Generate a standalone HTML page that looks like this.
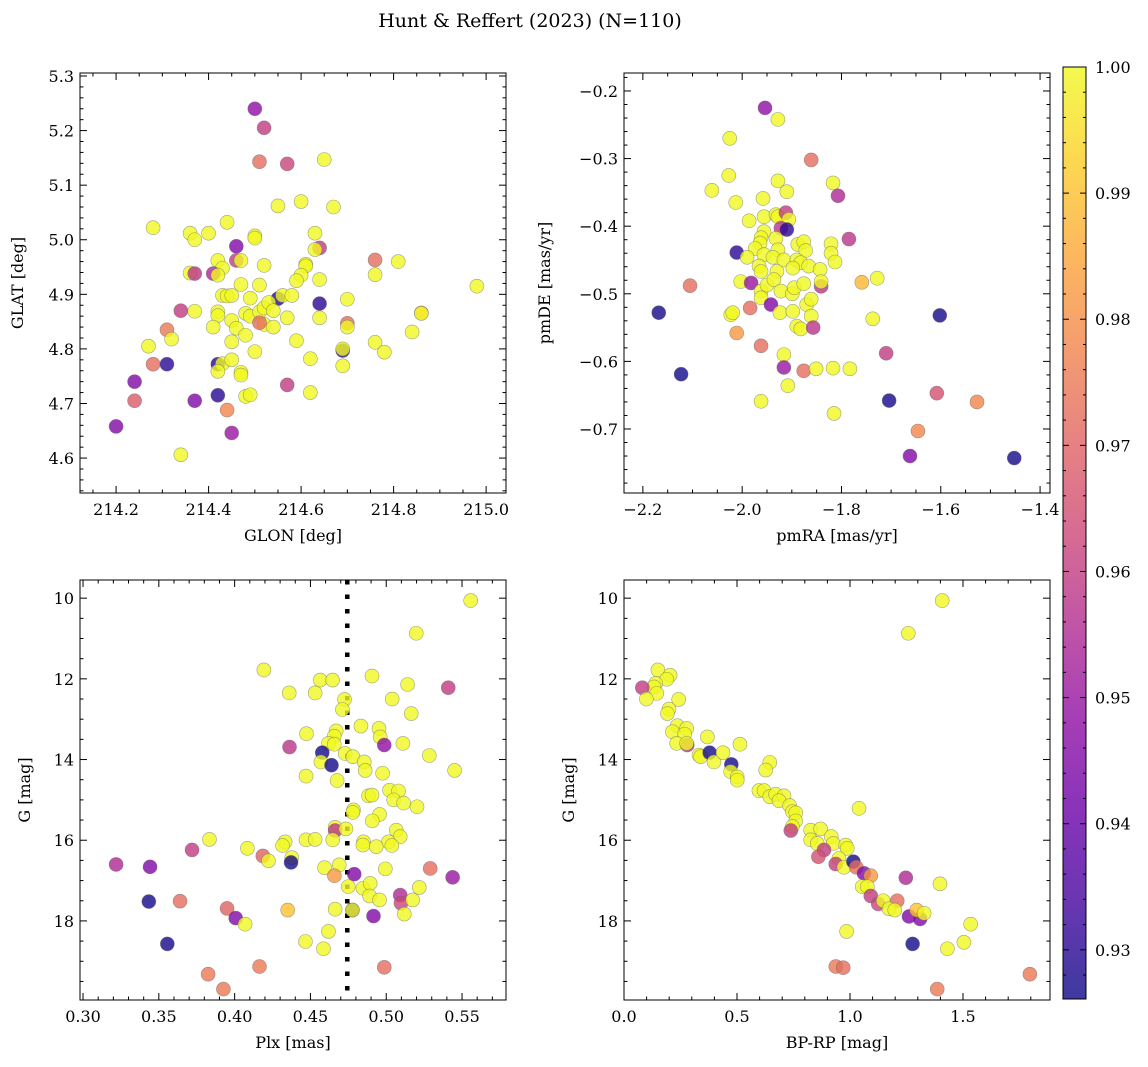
<!DOCTYPE html>
<html><head><meta charset="utf-8">
<style>
html,body{margin:0;padding:0;background:#fff;}
svg{display:block;font-family:"DejaVu Serif","Liberation Serif",serif;}
</style></head>
<body>
<svg id="fig" width="1148" height="1067" viewBox="0 0 1148 1067" xmlns="http://www.w3.org/2000/svg">
<text x="530" y="27" font-size="19" text-anchor="middle">Hunt &amp; Reffert (2023) (N=110)</text>
</svg>
<script>
// ---- Panel 1: GLON vs GLAT ----
const p1Glon=[214.50,214.52,214.51,214.57,214.65,214.55,214.60,214.67,214.28,214.36,214.37,214.40,214.44,214.50,214.50,214.63,214.64,214.63,214.46,214.46,214.47,214.42,214.52,214.61,214.61,214.76,214.81,214.43,214.36,214.37,214.41,214.42,214.60,214.59,214.64,214.76,214.98,214.51,214.47,214.43,214.44,214.45,214.49,214.55,214.56,214.58,214.64,214.70,214.37,214.34,214.42,214.42,214.45,214.48,214.49,214.51,214.52,214.53,214.54,214.57,214.52,214.51,214.54,214.41,214.46,214.48,214.64,214.70,214.70,214.86,214.86,214.84,214.45,214.50,214.59,214.76,214.78,214.69,214.69,214.27,214.31,214.32,214.28,214.31,214.42,214.43,214.45,214.42,214.47,214.47,214.62,214.69,214.24,214.48,214.49,214.42,214.37,214.24,214.44,214.57,214.62,214.20,214.45,214.34];
const p1Glat=[5.240,5.205,5.143,5.139,5.147,5.062,5.070,5.060,5.022,5.012,5.000,5.012,5.032,5.007,5.003,5.012,4.985,4.982,4.988,4.962,4.962,4.962,4.953,4.955,4.952,4.963,4.960,4.948,4.939,4.938,4.938,4.935,4.935,4.925,4.927,4.936,4.915,4.917,4.918,4.898,4.897,4.898,4.893,4.892,4.898,4.898,4.883,4.891,4.869,4.870,4.868,4.861,4.852,4.865,4.860,4.868,4.875,4.885,4.870,4.857,4.845,4.848,4.840,4.840,4.838,4.825,4.857,4.847,4.840,4.866,4.865,4.831,4.813,4.795,4.815,4.812,4.794,4.797,4.800,4.805,4.835,4.818,4.772,4.772,4.772,4.773,4.780,4.759,4.757,4.752,4.782,4.769,4.740,4.713,4.716,4.715,4.705,4.705,4.688,4.734,4.720,4.658,4.646,4.606];
const p1Prob=[0.948,0.96,0.972,0.962,1,1,1,1,1,1,1,1,1,1,1,1,0.96,1,0.945,0.96,1,1,1,1,1,0.972,1,1,1,0.958,0.955,1,1,1,1,1,1,1,1,1,1,1,1,0.93,1,1,0.93,1,1,0.96,1,1,1,1,1,1,1,1,1,1,1,0.972,1,1,1,1,1,0.972,1,0.985,1,1,1,1,1,1,1,0.93,1,1,0.975,1,0.972,0.93,0.93,1,1,1,1,1,1,1,0.945,1,1,0.93,0.945,0.968,0.978,0.96,1,0.945,0.95,1];

// ---- Panel 2: pmRA vs pmDE ----
const p2PmRA=[-1.954,-1.928,-2.025,-1.861,-2.027,-1.928,-1.817,-2.061,-1.910,-1.807,-2.013,-1.958,-1.986,-1.956,-1.932,-1.928,-1.912,-1.906,-1.922,-1.910,-1.785,-1.956,-1.962,-1.932,-1.964,-1.974,-1.928,-1.888,-1.876,-1.872,-1.821,-1.821,-1.813,-2.011,-1.990,-1.956,-1.938,-1.916,-1.890,-1.882,-1.866,-1.843,-1.966,-1.962,-1.930,-1.898,-2.003,-1.982,-1.962,-1.950,-1.936,-1.922,-1.899,-1.895,-1.876,-1.841,-1.841,-1.759,-1.728,-2.105,-2.168,-1.962,-1.942,-1.870,-1.861,-2.023,-2.019,-1.984,-1.924,-1.898,-1.861,-1.737,-1.602,-1.890,-1.882,-1.857,-2.011,-1.962,-1.916,-1.916,-1.876,-1.851,-1.817,-1.783,-1.710,-2.123,-1.908,-1.704,-1.608,-1.527,-1.962,-1.815,-1.646,-1.662,-1.452];
const p2PmDE=[-0.225,-0.242,-0.270,-0.302,-0.325,-0.333,-0.336,-0.347,-0.349,-0.355,-0.365,-0.359,-0.392,-0.386,-0.383,-0.386,-0.380,-0.390,-0.403,-0.405,-0.419,-0.408,-0.417,-0.418,-0.425,-0.433,-0.435,-0.427,-0.423,-0.436,-0.426,-0.440,-0.453,-0.439,-0.446,-0.442,-0.446,-0.450,-0.450,-0.454,-0.459,-0.464,-0.459,-0.467,-0.467,-0.462,-0.482,-0.484,-0.496,-0.487,-0.479,-0.496,-0.500,-0.491,-0.485,-0.489,-0.482,-0.483,-0.477,-0.488,-0.528,-0.506,-0.516,-0.516,-0.508,-0.531,-0.528,-0.521,-0.528,-0.526,-0.533,-0.537,-0.532,-0.548,-0.552,-0.550,-0.558,-0.577,-0.590,-0.609,-0.614,-0.611,-0.610,-0.611,-0.588,-0.619,-0.636,-0.658,-0.647,-0.660,-0.659,-0.677,-0.703,-0.740,-0.743];
const p2Prob=[0.948,1,1,0.972,1,1,1,1,1,0.955,1,1,1,1,1,1,0.96,1,0.958,0.93,0.958,1,1,1,1,1,1,1,1,1,1,1,1,0.93,1,1,1,1,1,1,1,1,1,1,1,1,1,0.95,1,1,1,1,1,1,1,0.958,1,0.988,1,0.972,0.927,1,0.945,1,1,1,1,0.972,1,1,1,1,0.927,1,1,0.958,0.982,0.972,1,0.95,0.972,1,1,1,0.96,0.927,1,0.927,0.965,0.978,1,1,0.978,0.945,0.927];

// ---- Panel 3: Plx vs G ----
const p3Plx=[0.5557,0.5198,0.4193,0.4565,0.4646,0.4906,0.5141,0.5409,0.4360,0.4531,0.4725,0.4711,0.5039,0.5165,0.4833,0.4952,0.4960,0.4987,0.5110,0.5284,0.5451,0.4474,0.4670,0.4657,0.4619,0.4657,0.4362,0.4578,0.4569,0.4639,0.4729,0.4780,0.4855,0.4861,0.4976,0.4676,0.4471,0.5022,0.5081,0.4883,0.4906,0.5049,0.5115,0.5203,0.4784,0.4780,0.4956,0.4908,0.4663,0.4663,0.4734,0.5066,0.5092,0.5015,0.5037,0.4850,0.4846,0.4934,0.4471,0.4531,0.4647,0.4333,0.4316,0.3834,0.4084,0.3719,0.4186,0.4223,0.4377,0.4372,0.3218,0.3442,0.4593,0.4690,0.4789,0.4658,0.4994,0.5290,0.5438,0.4749,0.4846,0.4894,0.4890,0.4956,0.5092,0.5097,0.5218,0.5174,0.5119,0.3434,0.3640,0.3950,0.4007,0.4069,0.4350,0.4663,0.4777,0.4777,0.4916,0.3556,0.4467,0.4619,0.4586,0.4164,0.4987,0.3825,0.3926];
const p3G=[10.06,10.87,11.78,12.03,12.03,11.93,12.14,12.22,12.35,12.35,12.51,12.76,12.50,12.86,13.17,13.23,13.44,13.64,13.60,13.90,14.27,13.36,13.29,13.42,13.60,13.62,13.69,13.83,14.06,14.14,13.85,13.93,14.06,14.27,14.34,14.52,14.41,14.76,14.78,14.90,14.88,15.00,15.08,15.17,15.25,15.31,15.36,15.52,15.68,15.76,15.72,15.75,15.91,16.04,16.13,16.04,16.12,16.16,15.99,15.98,15.99,16.04,16.13,15.98,16.20,16.24,16.39,16.51,16.43,16.55,16.60,16.66,16.68,16.61,16.84,16.88,16.71,16.70,16.92,17.15,17.19,17.07,17.38,17.48,17.36,17.56,17.17,17.48,17.83,17.52,17.51,17.69,17.93,18.08,17.73,17.71,17.73,17.73,17.88,18.57,18.51,18.26,18.69,19.13,19.15,19.32,19.69];
const p3Prob=[1,1,1,1,1,1,1,0.96,1,1,1,1,1,1,1,1,1,0.948,1,1,1,1,1,1,1,1,0.958,0.927,1,0.927,1,1,1,1,1,1,1,1,1,1,1,1,1,1,1,1,1,1,1,0.958,1,1,1,1,1,1,1,1,1,1,1,1,1,1,1,0.96,0.97,1,1,0.927,0.955,0.945,1,1,0.945,0.982,1,0.972,0.95,1,1,1,1,1,0.955,0.962,1,1,1,0.927,0.972,0.97,0.945,1,0.99,1,0.927,1,0.945,0.927,1,1,1,0.975,0.972,0.975,0.975];
const plxRef=0.4743;

// ---- Panel 4: BP-RP vs G ----
const p4Color=[1.408,1.258,0.150,0.204,0.189,0.140,0.133,0.145,0.081,0.099,0.242,0.199,0.192,0.236,0.277,0.214,0.268,0.233,0.280,0.277,0.369,0.332,0.339,0.379,0.398,0.438,0.513,0.475,0.472,0.501,0.501,0.645,0.627,0.597,0.620,0.645,0.671,0.708,0.686,0.733,0.745,0.760,0.760,0.745,0.738,1.040,0.826,0.870,0.917,0.826,0.855,0.926,0.981,0.988,0.885,0.860,0.951,0.937,0.973,1.015,1.028,1.062,1.092,1.054,1.077,1.092,1.125,1.147,1.209,1.173,1.198,1.261,1.310,1.295,1.328,1.247,1.398,1.534,1.504,1.431,0.985,1.277,0.937,0.970,1.386,1.796];
const p4G=[10.06,10.87,11.78,11.91,12.01,12.11,12.20,12.36,12.22,12.50,12.51,12.75,12.86,13.16,13.23,13.31,13.37,13.60,13.64,13.60,13.44,13.89,13.93,13.83,14.06,13.83,13.62,14.12,14.30,14.43,14.51,14.07,14.26,14.77,14.77,14.92,14.86,14.90,15.02,15.14,15.29,15.32,15.52,15.66,15.76,15.21,15.75,15.72,15.91,15.99,16.08,16.08,16.12,16.20,16.24,16.41,16.45,16.59,16.67,16.53,16.67,16.82,16.88,17.15,17.15,17.38,17.58,17.50,17.50,17.70,17.73,17.89,17.95,17.73,17.81,16.93,17.08,18.08,18.53,18.69,18.26,18.57,19.13,19.16,19.69,19.32];
const p4Prob=[1,1,1,1,1,1,1,1,0.96,1,1,1,1,1,1,1,1,1,0.958,1,1,1,1,0.927,1,1,1,0.927,1,1,1,1,1,1,1,1,1,1,1,1,1,1,1,1,0.96,1,1,1,1,1,1,1,1,1,0.96,0.965,1,0.96,1,0.927,0.972,0.945,0.982,1,1,0.96,0.962,1,0.972,1,1,0.945,0.945,0.99,1,0.955,1,1,1,1,1,0.927,0.975,0.972,0.975,0.975];

// colorbar ticks
const cbTicks=[0.93,0.94,0.95,0.96,0.97,0.98,0.99,1.00];
const cbMin=0.9261, cbMax=1.0;

const NS='http://www.w3.org/2000/svg';
const svg=document.getElementById('fig');
function mk(tag,attrs,parent){const e=document.createElementNS(NS,tag);for(const k in attrs)e.setAttribute(k,attrs[k]);(parent||svg).appendChild(e);return e;}

const plasma=[[13,8,135],[65,4,157],[106,0,168],[143,13,164],[177,42,144],[204,71,120],[225,100,98],[242,132,75],[252,166,54],[252,206,37],[240,249,33]];
function cmap(v){let t=(v-cbMin)/(cbMax-cbMin);t=Math.max(0,Math.min(1,t));const s=t*10;const i=Math.min(9,Math.floor(s));const f=s-i;const a=plasma[i],b=plasma[i+1];return 'rgb('+a.map((c,k)=>Math.round(c+(b[k]-c)*f)).join(',')+')';}
function fmt(v,d){const s=Math.abs(v).toFixed(d);return (v<-1e-9?'\u2212':'')+s;}

function panel(cfg){
  const g=mk('g',{});
  
  
  const {x0,y0,x1,y1}=cfg;
  const sx=v=>x0+(v-cfg.xd[0])/(cfg.xd[1]-cfg.xd[0])*(x1-x0);
  const sy=cfg.yinv?(v=>y0+(v-cfg.yd[0])/(cfg.yd[1]-cfg.yd[0])*(y1-y0)):(v=>y1-(v-cfg.yd[0])/(cfg.yd[1]-cfg.yd[0])*(y1-y0));
  const clip='clip-'+cfg.name;
  const cp=mk('clipPath',{id:clip},g);mk('rect',{x:x0,y:y0,width:x1-x0,height:y1-y0},cp);
  const pts=mk('g',{'clip-path':'url(#'+clip+')'},g);
  
  
  if(cfg.vline!==undefined){
    const l=mk('line',{x1:sx(cfg.vline),x2:sx(cfg.vline),y1:y0,y2:y1,stroke:'#000','stroke-width':4.5,'stroke-dasharray':'4.5 10'},pts);
    
    
  }
  for(let i=0;i<cfg.xs.length;i++){
    const c=mk('circle',{cx:sx(cfg.xs[i]),cy:sy(cfg.ys[i]),r:7,fill:cmap(cfg.ps[i]),'fill-opacity':0.8,stroke:'#666','stroke-opacity':0.6,'stroke-width':0.6},pts);
    
    
  }
  mk('rect',{x:x0,y:y0,width:x1-x0,height:y1-y0,fill:'none',stroke:'#000','stroke-width':1},g);
  // x ticks
  const eps=1e-9;
  for(let v=Math.ceil(cfg.xd[0]/cfg.xmin-eps)*cfg.xmin;v<=cfg.xd[1]+eps;v+=cfg.xmin){
    const X=sx(v);const major=Math.abs(v/cfg.xmaj-Math.round(v/cfg.xmaj))<1e-6;const L=major?7:3.5;
    mk('line',{x1:X,x2:X,y1:y1,y2:y1-L,stroke:'#000','stroke-width':1},g);
    mk('line',{x1:X,x2:X,y1:y0,y2:y0+L,stroke:'#000','stroke-width':1},g);
    if(major){const t=mk('text',{x:X,y:y1+22,'font-size':16,'text-anchor':'middle'},g);t.textContent=fmt(v,cfg.xdec);
      }
  }
  for(let v=Math.ceil(cfg.yd[0]/cfg.ymin-eps)*cfg.ymin;v<=cfg.yd[1]+eps;v+=cfg.ymin){
    const Y=sy(v);const major=Math.abs(v/cfg.ymaj-Math.round(v/cfg.ymaj))<1e-6;const L=major?7:3.5;
    mk('line',{x1:x0,x2:x0+L,y1:Y,y2:Y,stroke:'#000','stroke-width':1},g);
    mk('line',{x1:x1,x2:x1-L,y1:Y,y2:Y,stroke:'#000','stroke-width':1},g);
    if(major){const t=mk('text',{x:x0-6,y:Y+6,'font-size':16,'text-anchor':'end'},g);t.textContent=fmt(v,cfg.ydec);
      }
  }
  const xl=mk('text',{x:(x0+x1)/2,y:y1+48,'font-size':16,'text-anchor':'middle'},g);xl.textContent=cfg.xlabel;
  
  const yl=mk('text',{x:0,y:0,'font-size':16,'text-anchor':'middle',transform:'translate('+cfg.ylx+','+((y0+y1)/2)+') rotate(-90)'},g);yl.textContent=cfg.ylabel;
  
}

panel({name:'glon-glat-panel',x0:80,y0:73,x1:506,y1:493,xd:[214.122,215.043],yd:[4.536,5.3055],xs:p1Glon,ys:p1Glat,ps:p1Prob,xmaj:0.2,xmin:0.05,ymaj:0.1,ymin:0.02,xdec:1,ydec:1,xlabel:'GLON [deg]',ylabel:'GLAT [deg]',ylx:23});
panel({name:'proper-motion-panel',x0:624,y0:73,x1:1050,y1:493,xd:[-2.238,-1.380],yd:[-0.7947,-0.1734],xs:p2PmRA,ys:p2PmDE,ps:p2Prob,xmaj:0.2,xmin:0.05,ymaj:0.1,ymin:0.02,xdec:1,ydec:1,xlabel:'pmRA [mas/yr]',ylabel:'pmDE [mas/yr]',ylx:550});
panel({name:'plx-g-panel',x0:80,y0:580,x1:506,y1:1000,xd:[0.298,0.579],yd:[9.55,19.96],yinv:true,xs:p3Plx,ys:p3G,ps:p3Prob,vline:plxRef,xmaj:0.05,xmin:0.01,ymaj:2,ymin:0.5,xdec:2,ydec:0,xlabel:'Plx [mas]',ylabel:'G [mag]',ylx:30});
panel({name:'cmd-panel',x0:624,y0:580,x1:1050,y1:1000,xd:[0,1.885],yd:[9.55,19.96],yinv:true,xs:p4Color,ys:p4G,ps:p4Prob,xmaj:0.5,xmin:0.1,ymaj:2,ymin:0.5,xdec:1,ydec:0,xlabel:'BP-RP [mag]',ylabel:'G [mag]',ylx:574});

// colorbar
(function(){
  const cx0=1063,cx1=1086,cy0=67,cy1=999;
  const g=mk('g',{});
  
  
  const defs=mk('defs',{},g);
  const lg=mk('linearGradient',{id:'cbgrad',x1:0,y1:1,x2:0,y2:0},defs);
  for(let i=0;i<=20;i++){const v=cbMin+(cbMax-cbMin)*i/20;mk('stop',{offset:(i/20),'stop-color':cmap(v),'stop-opacity':0.8},lg);}
  mk('rect',{x:cx0,y:cy0,width:cx1-cx0,height:cy1-cy0,fill:'url(#cbgrad)',stroke:'#000','stroke-width':1},g);
  const sy=v=>cy0+(cbMax-v)/(cbMax-cbMin)*(cy1-cy0);
  for(let k=0;k*0.002<=cbMax-cbMin+1e-9;k++){const v=cbMax-k*0.002;const Y=sy(v);const major=k%5===0;
    mk('line',{x1:cx1,x2:cx1-(major?6:3),y1:Y,y2:Y,stroke:'#000','stroke-width':1},g);
    mk('line',{x1:cx0,x2:cx0+(major?6:3),y1:Y,y2:Y,stroke:'#000','stroke-width':1},g);}
  cbTicks.forEach(v=>{const t=mk('text',{x:cx1+9,y:sy(v)+6,'font-size':16},g);t.textContent=v.toFixed(2);
    });
})();
</script>
</body></html>
